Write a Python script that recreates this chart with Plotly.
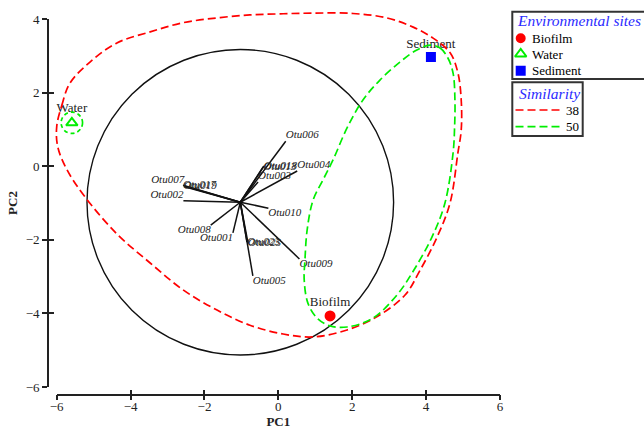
import plotly.graph_objects as go

W, H = 644, 429
SERIF = "Liberation Serif"

# ---------------- data ----------------
sample_names = ["Biofilm", "Water", "Sediment"]
sample_x = [1.40, -5.59, 4.13]
sample_y = [-4.07, 1.18, 2.97]

vec_origin_x = -1.03
vec_origin_y = -0.98
vec_names = ["Otu006", "Otu004", "Otu013", "Otu018", "Otu003", "Otu007",
             "Otu017", "Otu019", "Otu002", "Otu008", "Otu001", "Otu023",
             "Otu025", "Otu005", "Otu009", "Otu010"]
vec_x = [0.20, 0.51, -0.41, -0.39, -0.55, -2.55, -2.58, -2.56, -2.57, -1.83,
         -1.23, -0.85, -0.82, -0.69, 0.57, -0.27]
vec_y = [0.68, -0.13, -0.02, 0.005, -0.43, -0.54, -0.52, -0.55, -0.94, -1.60,
         -1.81, -2.06, -2.09, -2.98, -2.52, -1.14]
vec_label_pos = ["top right", "top right", "middle right", "middle right",
                 "top right", "top left", "middle right", "middle right",
                 "top left", "bottom left", "bottom left", "middle right",
                 "middle right", "bottom right", "bottom right", "bottom right"]

circle_radius = 4.15

# similarity 38 contour (control points)
sim38_x = [-6.00, -5.86, -5.64, -5.10, -4.37, -3.47, -2.58, -1.66, -0.77, 0.05,
           0.94, 2.02, 2.94, 3.65, 4.19, 4.65, 4.86, 4.95, 4.95, 4.86, 4.65,
           4.30, 3.84, 3.43, 2.70, 1.86, 0.94, 0.13, -0.77, -1.66, -2.58,
           -3.47, -4.37, -5.23, -5.72, -5.97]
sim38_y = [1.07, 1.66, 2.26, 2.83, 3.35, 3.65, 3.90, 4.03, 4.11, 4.14, 4.16,
           4.15, 4.03, 3.78, 3.48, 3.08, 2.54, 1.80, 0.98, 0.36, -0.99, -1.92,
           -2.82, -3.50, -4.07, -4.45, -4.64, -4.56, -4.32, -3.91, -3.36,
           -2.63, -1.84, -0.84, -0.10, 0.52]

# similarity 50 contour (control points)
sim50_x = [4.11, 4.38, 4.59, 4.73, 4.78, 4.77, 4.73, 4.51, 4.16, 3.67, 3.21,
           2.56, 1.86, 1.40, 1.05, 0.80, 0.70, 0.72, 0.78, 0.94, 1.21, 1.48,
           1.86, 2.29, 2.75, 3.29, 3.75]
sim50_y = [3.29, 3.21, 2.94, 2.53, 1.80, 1.04, 0.36, -1.00, -1.92, -2.82,
           -3.50, -4.13, -4.37, -4.34, -4.13, -3.72, -3.09, -2.55, -1.73,
           -0.92, -0.37, 0.17, 1.04, 1.80, 2.34, 2.83, 3.16]
water_ring_radius = 0.29

similarity_levels = ["38", "50"]
x_ticks = [-6, -4, -2, 0, 2, 4, 6]
y_ticks = [-6, -4, -2, 0, 2, 4]
X_RANGE = [-6, 6]
Y_RANGE = [-6, 4]

# ---------------- layout geometry (screen pixels) ----------------
PX_X0, PX_X1 = 56.7, 500.0     # where x=-6 and x=6 sit
PX_YT, PX_YB = 19.0, 387.0     # where y=4 and y=-6 sit
XAXIS_LINE_Y = 394.5
YAXIS_LINE_X = 48.0

ux = (X_RANGE[1] - X_RANGE[0]) / (PX_X1 - PX_X0)
uy = (Y_RANGE[1] - Y_RANGE[0]) / (PX_YB - PX_YT)
x2_range = [X_RANGE[0] - PX_X0 * ux, X_RANGE[1] + (W - PX_X1) * ux]
y2_range = [Y_RANGE[0] - (H - PX_YB) * uy, Y_RANGE[1] + PX_YT * uy]

RED = "#ff0000"
GREEN = "#00ee00"
BLUE = "#0000ff"
TITLE_BLUE = "#2b2bff"
AXIS_COL = "#222"
sample_colors = [RED, GREEN, BLUE]
sample_symbols = ["circle", "triangle-up-open", "square"]
sample_sizes = [9, 10, 8]
level_colors = [RED, GREEN]

fig = go.Figure()

# 38% contour (extends past the axis frame -> drawn on a wide invisible axis pair)
fig.add_trace(go.Scatter(
    x=sim38_x + sim38_x[:1], y=sim38_y + sim38_y[:1], mode="lines",
    line=dict(color=RED, width=1.7, dash="8px,4px", shape="spline", smoothing=1.0),
    fill="toself", fillcolor="rgba(0,0,0,0)", showlegend=False,
    xaxis="x2", yaxis="y2", hoverinfo="skip"))
# 50% contour
fig.add_trace(go.Scatter(
    x=sim50_x + sim50_x[:1], y=sim50_y + sim50_y[:1], mode="lines",
    line=dict(color=GREEN, width=1.7, dash="8px,4px", shape="spline", smoothing=1.0),
    fill="toself", fillcolor="rgba(0,0,0,0)", showlegend=False,
    xaxis="x2", yaxis="y2", hoverinfo="skip"))

# vectors
lx, ly = [], []
for vx, vy in zip(vec_x, vec_y):
    lx += [vec_origin_x, vx, None]
    ly += [vec_origin_y, vy, None]
fig.add_trace(go.Scatter(x=lx, y=ly, mode="lines", line=dict(color="#111", width=1.5),
                         showlegend=False, hoverinfo="skip"))
# vector labels on the twin axes (x4/y4 mirror x/y and carry the inner tick halves)
fig.add_trace(go.Scatter(x=vec_x, y=vec_y, mode="text", text=vec_names,
                         textposition=vec_label_pos, cliponaxis=False,
                         textfont=dict(family=SERIF, size=11, color="#222", style="italic"),
                         showlegend=False, hoverinfo="skip", xaxis="x4", yaxis="y4"))

# samples
fig.add_trace(go.Scatter(
    x=sample_x, y=sample_y, mode="markers+text", text=sample_names,
    textposition="top center", cliponaxis=False,
    textfont=dict(family=SERIF, size=13, color="#222"),
    marker=dict(color=sample_colors, symbol=sample_symbols, size=sample_sizes,
                opacity=1, line=dict(color=sample_colors, width=2)),
    showlegend=False))

# correlation circle and water ring
fig.add_shape(type="circle", xref="x", yref="y",
              x0=vec_origin_x - circle_radius, x1=vec_origin_x + circle_radius,
              y0=vec_origin_y - circle_radius, y1=vec_origin_y + circle_radius,
              line=dict(color="#111", width=1.4), layer="below")
fig.add_shape(type="circle", xref="x", yref="y",
              x0=sample_x[1] - water_ring_radius, x1=sample_x[1] + water_ring_radius,
              y0=sample_y[1] - water_ring_radius, y1=sample_y[1] + water_ring_radius,
              line=dict(color=GREEN, width=1.7, dash="4px,3px"))

# ---------------- legend boxes (pixel axis x3/y3) ----------------
BOX1 = (512.3, 11.7, 660.0, 79.0)
BOX2 = (512.3, 82.3, 582.7, 136.0)
for (bx0, by0, bx1, by1) in (BOX1, BOX2):
    fig.add_shape(type="rect", xref="x3", yref="y3", x0=bx0, x1=bx1, y0=by0, y1=by1,
                  line=dict(color="#333", width=2), fillcolor="white", layer="below",
                  opacity=1)

leg_sym_x = 520.7
leg_txt_x = 529.5
leg_item_y = [38.3, 54.0, 70.7]
fig.add_trace(go.Scatter(
    x=[leg_sym_x] * 3, y=leg_item_y, mode="markers", xaxis="x3", yaxis="y3",
    marker=dict(color=sample_colors, symbol=sample_symbols, size=[8, 10, 8],
                opacity=1, line=dict(color=sample_colors, width=2)),
    showlegend=False, hoverinfo="skip", cliponaxis=False))
for name, yy in zip(sample_names, leg_item_y):
    fig.add_annotation(x=leg_txt_x, y=yy, xref="x3", yref="y3", text=name,
                       showarrow=False, xanchor="left", yanchor="middle",
                       font=dict(family=SERIF, size=13, color="black"))

fig.add_annotation(x=514.5, y=20.7, xref="x3", yref="y3",
                   text="Environmental sites", showarrow=False, xanchor="left",
                   yanchor="middle",
                   font=dict(family=SERIF, size=15.5, color=TITLE_BLUE, style="italic"))
fig.add_annotation(x=516.5, y=93.3, xref="x3", yref="y3",
                   text="Similarity", showarrow=False, xanchor="left", yanchor="middle",
                   font=dict(family=SERIF, size=15.5, color=TITLE_BLUE, style="italic"))

lvl_y = [110.0, 126.7]
for lvl, col, yy in zip(similarity_levels, level_colors, lvl_y):
    fig.add_shape(type="line", xref="x3", yref="y3", x0=515.5, x1=560.5,
                  y0=yy, y1=yy, line=dict(color=col, width=1.7, dash="8px,4px"))
    fig.add_annotation(x=580.5, y=yy, xref="x3", yref="y3", text=lvl,
                       showarrow=False, xanchor="right", yanchor="middle",
                       font=dict(family=SERIF, size=13, color="black"))

axis_common = dict(showgrid=False, zeroline=False, showline=True, linecolor=AXIS_COL,
                   linewidth=1.6, ticks="outside", ticklen=5, tickwidth=1.6,
                   automargin=True,
                   tickcolor=AXIS_COL, tickfont=dict(family=SERIF, size=13, color="#222"))
twin_common = dict(showgrid=False, zeroline=False, showline=False, ticks="inside",
                   ticklen=5, tickwidth=1.6, tickcolor=AXIS_COL, showticklabels=False,
                   automargin=False)
hidden = dict(visible=False, automargin=False, showgrid=False, zeroline=False)

x_pos = (H - XAXIS_LINE_Y) / H
y_pos = YAXIS_LINE_X / W

fig.update_layout(
    width=W, height=H, margin=dict(l=0, r=0, t=0, b=0, pad=0, autoexpand=False),
    paper_bgcolor="white", plot_bgcolor="rgba(0,0,0,0)",
    font=dict(family=SERIF), showlegend=False,
    xaxis=dict(domain=[PX_X0 / W, PX_X1 / W], range=X_RANGE, tickvals=x_ticks,
               anchor="free", position=x_pos, ticklabelstandoff=-5,
               title=dict(text="<b>PC1</b>", font=dict(family=SERIF, size=13, color="#222"),
                          standoff=0), **axis_common),
    yaxis=dict(domain=[(H - PX_YB) / H, (H - PX_YT) / H], range=Y_RANGE, tickvals=y_ticks,
               anchor="free", position=y_pos,
               title=dict(text="<b>PC2</b>", font=dict(family=SERIF, size=13, color="#222"),
                          standoff=4), **axis_common),
    xaxis4=dict(overlaying="x", range=X_RANGE, tickvals=x_ticks, anchor="free",
                position=x_pos, side="bottom", **twin_common),
    yaxis4=dict(overlaying="y", range=Y_RANGE, tickvals=y_ticks, anchor="free",
                position=y_pos, side="left", **twin_common),
    xaxis2=dict(domain=[0, 1], range=x2_range, anchor="y2", **hidden),
    yaxis2=dict(domain=[0, 1], range=y2_range, anchor="x2", **hidden),
    xaxis3=dict(domain=[0, 1], range=[0, W], anchor="y3", **hidden),
    yaxis3=dict(domain=[0, 1], range=[H, 0], anchor="x3", **hidden),
)

fig.write_html("out.html", config={"displayModeBar": False},
               post_script="document.body.style.margin='0px';"
                           "document.body.style.overflow='hidden';")
